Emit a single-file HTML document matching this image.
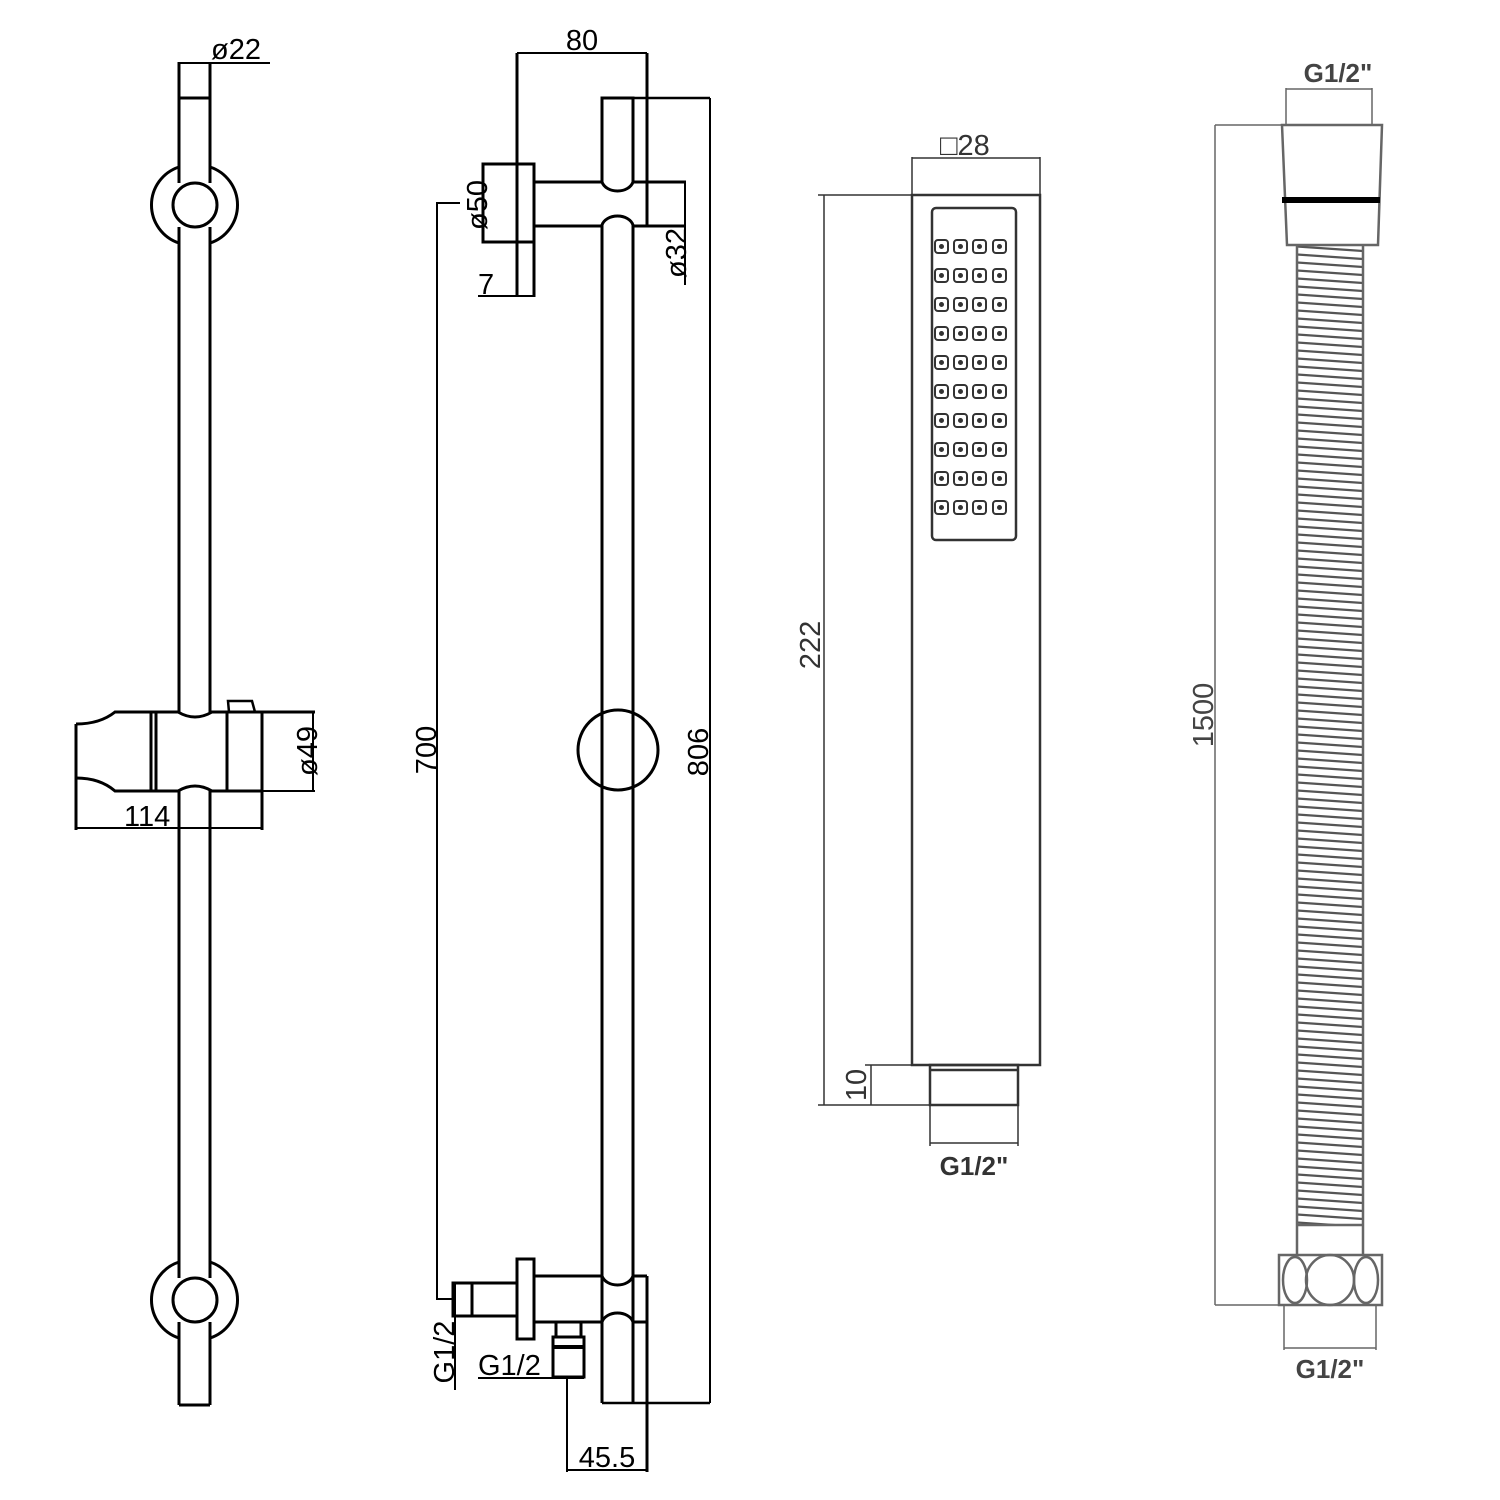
<!DOCTYPE html>
<html><head><meta charset="utf-8"><style>html,body{margin:0;padding:0;background:#fff}svg{display:block}</style></head>
<body>
<svg width="1500" height="1500" viewBox="0 0 1500 1500" xmlns="http://www.w3.org/2000/svg" font-family="Liberation Sans, sans-serif">
<defs>
<pattern id="rib" patternUnits="userSpaceOnUse" width="66" height="8" x="1297" y="245">
<line x1="0" y1="1.5" x2="66" y2="6" stroke="#555" stroke-width="2.2"/>
</pattern>
</defs>
<g fill="none" stroke="#000" stroke-width="3">
<line x1="179" y1="62" x2="179" y2="183"/><line x1="210" y1="62" x2="210" y2="183"/>
<line x1="179" y1="98" x2="210" y2="98"/>
<line x1="179" y1="63" x2="270" y2="63" stroke-width="2"/>
<circle cx="195" cy="205" r="22"/>
<path d="M179 167 A40 40 0 0 0 179 243 M210 167 A40 40 0 0 1 210 243"/>
<line x1="179" y1="227" x2="179" y2="712"/><line x1="210" y1="227" x2="210" y2="712"/>
<line x1="179" y1="791" x2="179" y2="1278"/><line x1="210" y1="791" x2="210" y2="1278"/>
<circle cx="195" cy="1300" r="22"/>
<path d="M179 1262 A40 40 0 0 0 179 1338 M210 1262 A40 40 0 0 1 210 1338"/>
<line x1="179" y1="1322" x2="179" y2="1405"/><line x1="210" y1="1322" x2="210" y2="1405"/>
<line x1="179" y1="1405" x2="210" y2="1405"/>
<path d="M76 724 Q100 724 115 712 L178 712 Q195 722 212 712 L315 712"/>
<path d="M76 778 Q100 778 115 791 L178 791 Q195 781 212 791 L262 791"/>
<line x1="76" y1="724" x2="76" y2="830"/>
<line x1="151" y1="712" x2="151" y2="791"/><line x1="156" y1="712" x2="156" y2="791"/>
<line x1="227" y1="712" x2="227" y2="791"/><line x1="262" y1="712" x2="262" y2="830"/>
<path d="M229 712 L228 701 L252 701 L255 712" stroke-width="2.5"/>
<line x1="313" y1="712" x2="313" y2="791" stroke-width="2"/>
<line x1="262" y1="791" x2="315" y2="791" stroke-width="2"/>
<line x1="76" y1="828" x2="262" y2="828" stroke-width="2"/>

<path d="M602 182 L602 98 L633 98 L633 182 A16 12 0 0 1 602 182"/>
<line x1="633" y1="98" x2="710" y2="98" stroke-width="2.5"/>
<path d="M602 1403 L602 225 A16 12 0 0 1 633 225 L633 1403"/>
<line x1="602" y1="1403" x2="710" y2="1403" stroke-width="2.5"/>
<line x1="710" y1="98" x2="710" y2="1403" stroke-width="2"/>
<line x1="535" y1="182" x2="602" y2="182"/><line x1="633" y1="182" x2="686" y2="182"/>
<line x1="535" y1="226" x2="602" y2="226"/><line x1="633" y1="226" x2="686" y2="226"/>
<line x1="685" y1="182" x2="685" y2="285" stroke-width="2"/>
<line x1="647" y1="53" x2="647" y2="226"/>
<rect x="483" y="164" width="51" height="78"/>
<line x1="517" y1="53" x2="517" y2="297"/><line x1="534" y1="242" x2="534" y2="297"/>
<line x1="517" y1="53" x2="647" y2="53" stroke-width="2"/>
<line x1="478" y1="296" x2="534" y2="296" stroke-width="2"/>
<path d="M460 203 L437 203 L437 1299 L453 1299" stroke-width="2"/>
<circle cx="618" cy="750" r="40" fill="#fff"/>
<line x1="602" y1="712" x2="602" y2="788"/><line x1="633" y1="712" x2="633" y2="788"/>
<path d="M602 1276 A16 12 0 0 0 633 1276" fill="#fff"/>
<path d="M602 1322 A16 12 0 0 1 633 1322" fill="#fff"/>
<line x1="534" y1="1276" x2="602" y2="1276"/><line x1="633" y1="1276" x2="647" y2="1276"/>
<line x1="534" y1="1322" x2="602" y2="1322"/><line x1="633" y1="1322" x2="647" y2="1322"/>
<line x1="647" y1="1276" x2="647" y2="1472"/>
<rect x="517" y="1259" width="17" height="80"/>
<rect x="453" y="1283" width="64" height="33"/>
<line x1="472" y1="1283" x2="472" y2="1316"/>
<line x1="455" y1="1283" x2="455" y2="1390" stroke-width="2"/>
<rect x="553" y="1337" width="31" height="40"/>
<line x1="553" y1="1347" x2="584" y2="1347" stroke-width="4"/>
<line x1="556" y1="1322" x2="556" y2="1337"/><line x1="581" y1="1322" x2="581" y2="1337"/>
<line x1="478" y1="1378" x2="584" y2="1378" stroke-width="2"/>
<line x1="567" y1="1377" x2="567" y2="1472" stroke-width="2"/>
<line x1="567" y1="1470" x2="647" y2="1470" stroke-width="2"/>
</g>
<g font-size="29" fill="#000">
<text x="211" y="59">ø22</text>
<text x="124" y="826">114</text>
<text transform="translate(317,751) rotate(-90)" text-anchor="middle">ø49</text>
<text x="582" y="50" text-anchor="middle">80</text>
<text transform="translate(487,205) rotate(-90)" text-anchor="middle">ø50</text>
<text transform="translate(686,253) rotate(-90)" text-anchor="middle">ø32</text>
<text x="478" y="294">7</text>
<text transform="translate(436,750) rotate(-90)" text-anchor="middle">700</text>
<text transform="translate(708,752) rotate(-90)" text-anchor="middle">806</text>
<text transform="translate(454,1352) rotate(-90)" text-anchor="middle">G1/2</text>
<text x="478" y="1375">G1/2</text>
<text x="607" y="1467" text-anchor="middle">45.5</text>
</g>
<g fill="none" stroke="#333" stroke-width="2.5">
<rect x="912" y="195" width="128" height="870"/>
<rect x="932" y="208" width="84" height="332" rx="4"/>
<rect x="930" y="1065" width="88" height="40"/>
<line x1="930" y1="1070" x2="1018" y2="1070"/>
<line x1="912" y1="157" x2="912" y2="195" stroke-width="1.5"/><line x1="1040" y1="157" x2="1040" y2="195" stroke-width="1.5"/>
<line x1="912" y1="158" x2="1040" y2="158" stroke-width="1.5"/>
<line x1="818" y1="195" x2="912" y2="195" stroke-width="1.5"/>
<line x1="818" y1="1105" x2="930" y2="1105" stroke-width="1.5"/>
<line x1="824" y1="195" x2="824" y2="1105" stroke-width="1.5"/>
<line x1="865" y1="1065" x2="912" y2="1065" stroke-width="1.5"/>
<line x1="871" y1="1065" x2="871" y2="1105" stroke-width="1.5"/>
<line x1="930" y1="1105" x2="930" y2="1146" stroke-width="1.5"/><line x1="1018" y1="1105" x2="1018" y2="1146" stroke-width="1.5"/>
<line x1="930" y1="1143" x2="1018" y2="1143" stroke-width="1.5"/>
</g>
<g fill="none" stroke="#333" stroke-width="2">
<g id="row">
<rect x="935" y="240" width="13" height="13" rx="3"/><rect x="954" y="240" width="13" height="13" rx="3"/><rect x="973" y="240" width="13" height="13" rx="3"/><rect x="993" y="240" width="13" height="13" rx="3"/>
<circle cx="941.5" cy="246.5" r="1.5" fill="#333"/><circle cx="960.5" cy="246.5" r="1.5" fill="#333"/><circle cx="979.5" cy="246.5" r="1.5" fill="#333"/><circle cx="999.5" cy="246.5" r="1.5" fill="#333"/>
</g>
<use href="#row" y="29"/><use href="#row" y="58"/><use href="#row" y="87"/><use href="#row" y="116"/><use href="#row" y="145"/><use href="#row" y="174"/><use href="#row" y="203"/><use href="#row" y="232"/><use href="#row" y="261"/>
</g>
<g font-size="29" fill="#333">
<text x="940" y="155">□28</text>
<text transform="translate(820,645) rotate(-90)" text-anchor="middle">222</text>
<text transform="translate(866,1085) rotate(-90)" text-anchor="middle">10</text>
<text x="974" y="1175" text-anchor="middle" font-weight="bold" font-size="26">G1/2"</text>
</g>
<rect x="1297" y="245" width="66" height="980" fill="url(#rib)"/>
<g fill="none" stroke="#666" stroke-width="2.5">
<line x1="1297" y1="245" x2="1297" y2="1255"/><line x1="1363" y1="245" x2="1363" y2="1255"/>
<line x1="1297" y1="1225" x2="1363" y2="1225"/>
<path d="M1282 125 L1382 125 L1378 245 L1287 245 Z"/>
<line x1="1282" y1="125" x2="1215" y2="125" stroke-width="1.5"/>
<line x1="1286" y1="88" x2="1286" y2="125" stroke-width="1.5"/><line x1="1372" y1="88" x2="1372" y2="125" stroke-width="1.5"/>
<line x1="1286" y1="89" x2="1372" y2="89" stroke-width="1.5"/>
<rect x="1279" y="1255" width="103" height="50"/>
<ellipse cx="1295" cy="1280" rx="12" ry="23"/><ellipse cx="1330" cy="1280" rx="24" ry="25"/><ellipse cx="1366" cy="1280" rx="12" ry="23"/>
<line x1="1215" y1="1305" x2="1279" y2="1305" stroke-width="1.5"/>
<line x1="1215" y1="125" x2="1215" y2="1305" stroke-width="1.5"/>
<line x1="1284" y1="1305" x2="1284" y2="1350" stroke-width="1.5"/><line x1="1376" y1="1305" x2="1376" y2="1350" stroke-width="1.5"/>
<line x1="1284" y1="1348" x2="1376" y2="1348" stroke-width="1.5"/>
</g>
<line x1="1282" y1="200" x2="1380" y2="200" stroke="#000" stroke-width="6"/>
<g font-size="26" font-weight="bold" fill="#444">
<text x="1338" y="82" text-anchor="middle">G1/2"</text>
<text x="1330" y="1378" text-anchor="middle">G1/2"</text>
<text transform="translate(1213,715) rotate(-90)" text-anchor="middle" font-weight="normal" font-size="29">1500</text>
</g>
</svg>
</body></html>
